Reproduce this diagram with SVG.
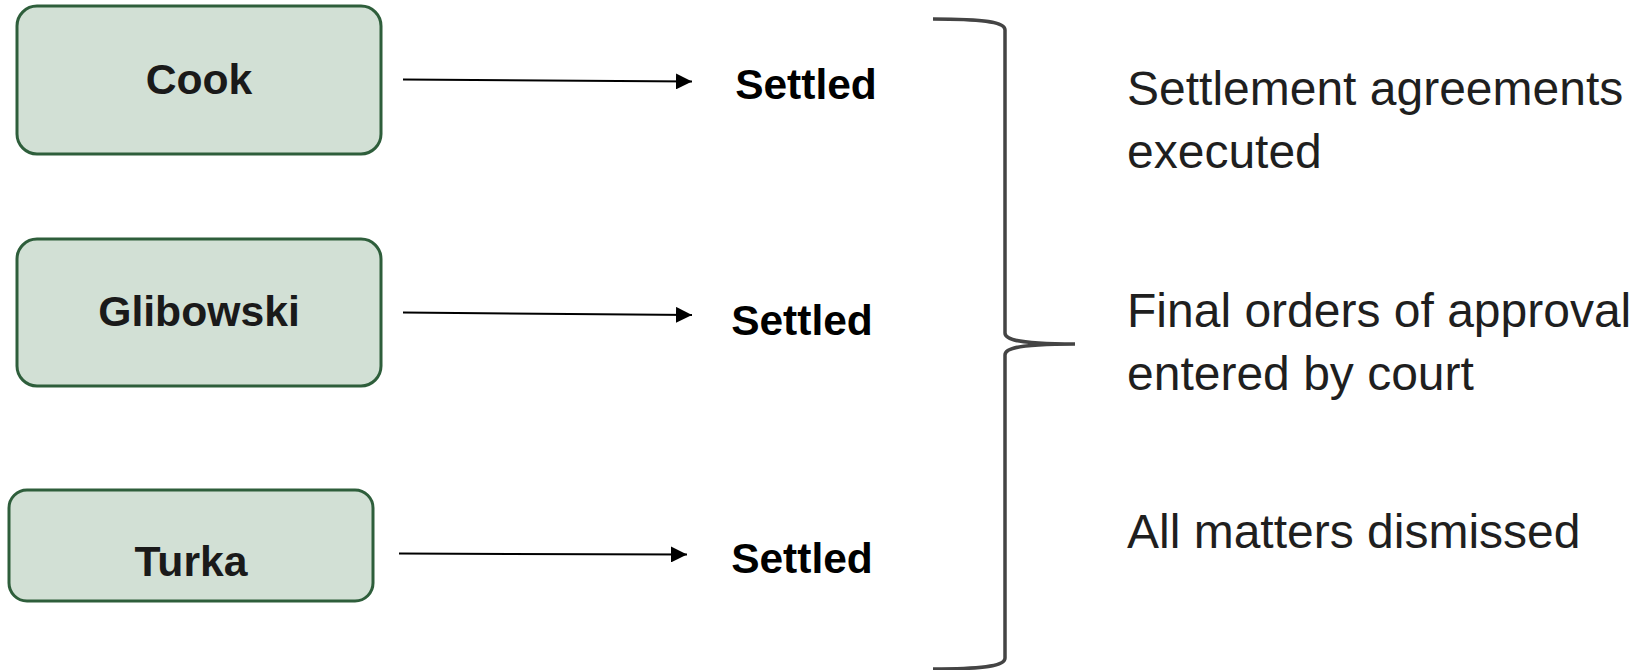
<svg xmlns="http://www.w3.org/2000/svg" width="1641" height="670" viewBox="0 0 1641 670">
  <style>
    .box { fill: #d2e0d5; stroke: #2e5e3b; stroke-width: 3; }
    .lbl { font-family: "Liberation Sans", Arial, sans-serif; font-weight: bold; font-size: 42.7px; fill: #1a1a1a; text-anchor: middle; }
    .st { font-family: "Liberation Sans", Arial, sans-serif; font-weight: bold; font-size: 42.5px; fill: #000; text-anchor: middle; }
    .note { font-family: "Liberation Sans", Arial, sans-serif; font-size: 48px; fill: #1f1f1f; }
    .conn { stroke: #000; stroke-width: 2; fill: none; }
    .brace { stroke: #444; stroke-width: 3.5; fill: none; }
  </style>
  <defs>
    <marker id="ah" markerUnits="userSpaceOnUse" markerWidth="16" markerHeight="16" refX="16" refY="8" orient="auto">
      <path d="M0,0 L16,8 L0,16 Z" fill="#000"/>
    </marker>
  </defs>
  <rect width="1641" height="670" fill="#fff"/>

  <g id="cook">
    <rect class="box" x="17" y="6" width="364" height="148" rx="20"/>
    <text class="lbl" x="199" y="94">Cook</text>
  </g>
  <g id="glibowski">
    <rect class="box" x="17" y="239" width="364" height="147" rx="20"/>
    <text class="lbl" x="199" y="326">Glibowski</text>
  </g>
  <g id="turka">
    <rect class="box" x="9" y="490" width="364" height="111" rx="18"/>
    <text class="lbl" x="191" y="576">Turka</text>
  </g>

  <g id="settled1"><text class="st" x="806" y="99">Settled</text></g>
  <g id="settled2"><text class="st" x="802" y="335">Settled</text></g>
  <g id="settled3"><text class="st" x="802" y="573">Settled</text></g>

  <g id="connectors">
    <line class="conn" x1="403" y1="79.5" x2="692" y2="81.5" marker-end="url(#ah)"/>
    <line class="conn" x1="403" y1="312.5" x2="692" y2="315" marker-end="url(#ah)"/>
    <line class="conn" x1="399" y1="553.5" x2="687" y2="554.5" marker-end="url(#ah)"/>
  </g>

  <g id="brace">
    <path class="brace" d="M933,19 C985,19 1005,22 1005,30 L1005,333 C1005,340 1020,344 1075,344 C1020,344 1005,348 1005,355 L1005,658 C1005,666 985,669 933,669"/>
  </g>

  <g id="notes">
    <text class="note" x="1127" y="105">Settlement agreements</text>
    <text class="note" x="1127" y="168">executed</text>
    <text class="note" x="1127" y="327">Final orders of approval</text>
    <text class="note" x="1127" y="390">entered by court</text>
    <text class="note" x="1127" y="548">All matters dismissed</text>
  </g>
</svg>
